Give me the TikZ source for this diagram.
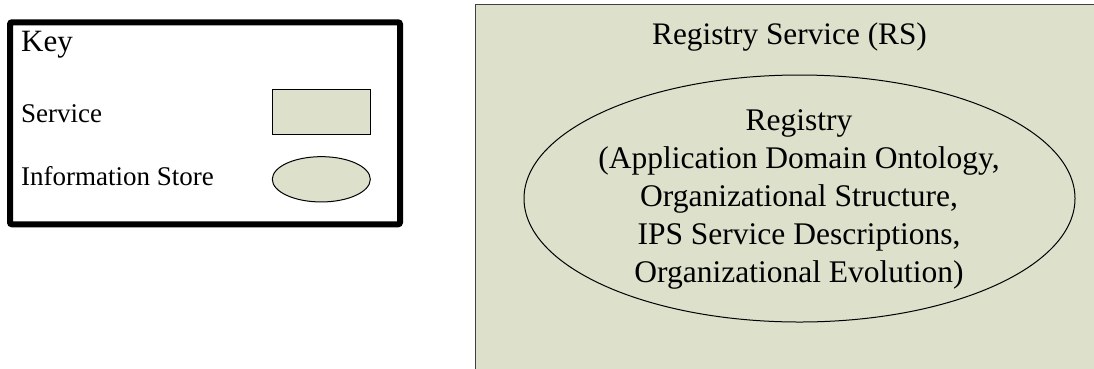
\documentclass[tikz,border=0pt]{standalone}
\usepackage{fontspec}
\setmainfont{Liberation Serif}
\usetikzlibrary{shapes.geometric}
\definecolor{svcfill}{RGB}{221,224,203}
\definecolor{rsborder}{RGB}{64,64,64}
\tikzset{
  keyframe/.style={draw=black, line width=6pt, rounded corners=2pt},
  svcbox/.style={draw=black, fill=svcfill, line width=1pt},
  storeshape/.style={draw=black, fill=svcfill, line width=1pt, ellipse, inner sep=0pt},
  keytext/.style={anchor=base west, inner sep=0pt, font=\fontsize{27}{32}\selectfont},
  bigtext/.style={inner sep=0pt, font=\fontsize{31.5}{38}\selectfont, align=center}
}
\begin{document}
\begin{tikzpicture}[x=1pt,y=-1pt]
\useasboundingbox (0,0) rectangle (1094,368);
\clip (0,0) rectangle (1094,368);
% Key
\draw[keyframe] (10,22.3) rectangle (400,224.3);
\node[keytext, font=\fontsize{31}{36}\selectfont] (keytitle) at (21,51.7) {Key};
\node[keytext] (svclabel) at (21,122.7) {Service};
\node[keytext] (storelabel) at (21,185) {Information Store};
\draw[svcbox] (272.3,89.3) rectangle (370.3,134.7);
\node[storeshape, minimum width=98pt, minimum height=45.3pt] (keystore) at (321.3,179.3) {};
% Registry Service
\draw[draw=rsborder, fill=svcfill, line width=1.6pt] (475.3,4.3) rectangle (1110,380);
\node[inner sep=0pt, anchor=base, font=\fontsize{31.3}{36}\selectfont] (rstitle) at (789.5,44) {Registry Service (RS)};
\node[storeshape, minimum width=551pt, minimum height=247pt] (registry) at (799.5,198.5) {};
\node[bigtext] (regtext) at (799,199.5) {Registry\\(Application Domain Ontology,\\Organizational Structure,\\IPS Service Descriptions,\\Organizational Evolution)};
\end{tikzpicture}
\end{document}
